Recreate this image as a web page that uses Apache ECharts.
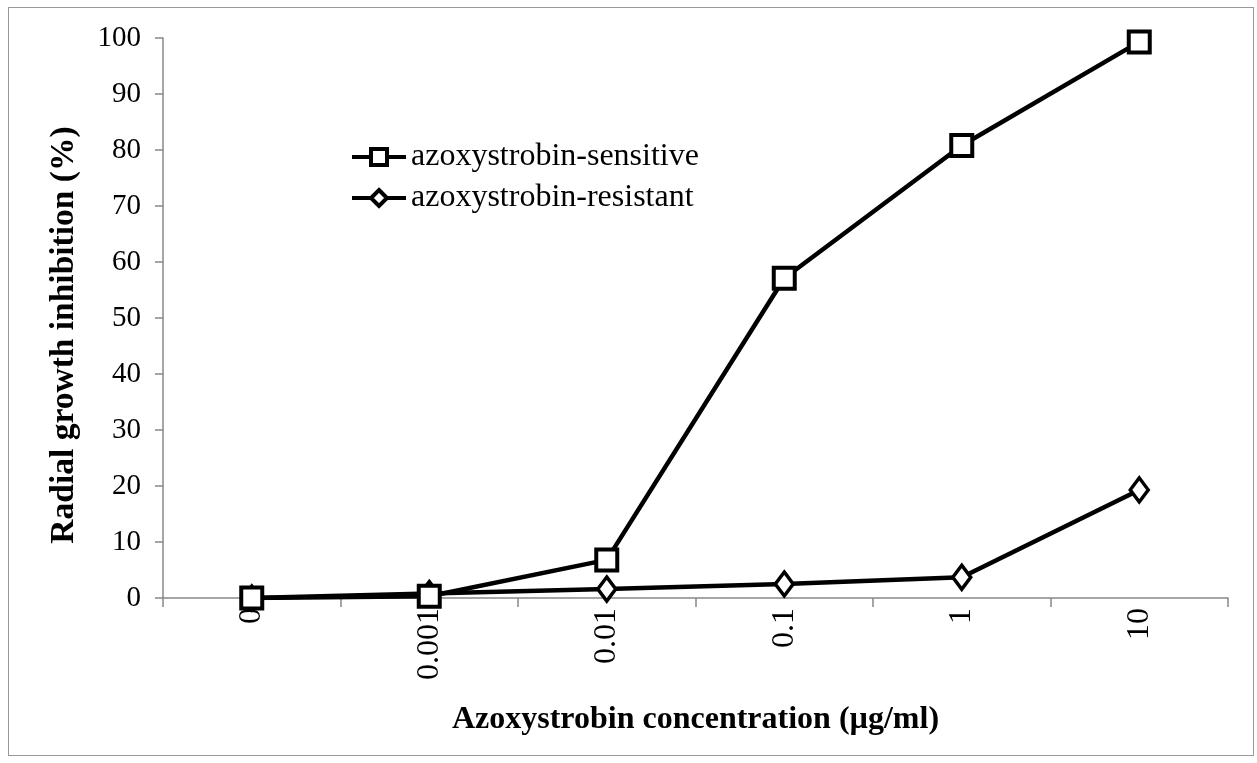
<!DOCTYPE html>
<html>
<head>
<meta charset="utf-8">
<script src="https://cdn.jsdelivr.net/npm/echarts@6/dist/echarts.min.js"></script>
<style>
html, body { margin: 0; padding: 0; background: #fff; }
#chart { width: 1257px; height: 763px; }
#frame { position: absolute; left: 8px; top: 7px; width: 1246px; height: 749px; border: 1px solid #999; box-sizing: border-box; pointer-events: none; }
</style>
</head>
<body>
<div id="chart"></div>
<div id="frame"></div>
<script>
var categories = ['0', '0.001', '0.01', '0.1', '1', '10'];
var sensitive = [0, 0.3, 6.8, 57.1, 80.8, 99.3];
var resistant = [0, 0.8, 1.6, 2.5, 3.7, 19.3];
var yTicks = { min: 0, max: 100, interval: 10 };

var dom = document.getElementById("chart");
var myChart = echarts.init(dom);
var font = 'Liberation Serif';
var option = {
    animation: false,
    grid: { left: 163, right: 29, top: 38, bottom: 165 },
    legend: {
        left: 345,
        top: 136,
        orient: 'vertical',
        itemGap: 9,
        itemWidth: 54,
        itemHeight: 20,
        lineStyle: { width: 4 },
        itemStyle: { borderWidth: 4 },
        textStyle: { fontFamily: font, fontSize: 32, color: '#000' },
        data: ['azoxystrobin-sensitive', 'azoxystrobin-resistant']
    },
    xAxis: {
        type: 'category',
        data: categories,
        name: 'Azoxystrobin concentration (µg/ml)',
        nameLocation: 'middle',
        nameGap: 106,
        nameTextStyle: { fontFamily: font, fontSize: 32, fontWeight: 'bold', color: '#000' },
        axisLine: { lineStyle: { color: '#888', width: 1.5 } },
        axisTick: { show: true, alignWithLabel: false, interval: 0, length: 9, lineStyle: { color: '#888', width: 1.5 } },
        axisLabel: {
            rotate: 90,
            margin: 10,
            interval: 0,
            fontFamily: font,
            fontSize: 32,
            color: '#000'
        }
    },
    yAxis: {
        type: 'value',
        min: yTicks.min,
        max: yTicks.max,
        interval: yTicks.interval,
        name: 'Radial growth inhibition (%)',
        nameLocation: 'middle',
        nameGap: 82,
        nameTextStyle: { fontFamily: font, fontSize: 33.5, fontWeight: 'bold', color: '#000', padding: [0, 34, 0, 0] },
        axisLine: { show: true, lineStyle: { color: '#888', width: 1.5 } },
        axisTick: { show: true, length: 8, lineStyle: { color: '#888', width: 1.5 } },
        splitLine: { show: false },
        axisLabel: { margin: 22, fontFamily: font, fontSize: 29, color: '#000' }
    },
    series: [{
        name: 'azoxystrobin-sensitive',
        type: 'line',
        data: sensitive,
        symbol: 'rect',
        symbolSize: 21,
        lineStyle: { color: '#000', width: 4.5 },
        itemStyle: { color: '#fff', borderColor: '#000', borderWidth: 4 },
        z: 3
    }, {
        name: 'azoxystrobin-resistant',
        type: 'line',
        data: resistant,
        symbol: 'diamond',
        symbolSize: [18, 24],
        lineStyle: { color: '#000', width: 4.5 },
        itemStyle: { color: '#fff', borderColor: '#000', borderWidth: 3.5 },
        z: 2
    }]
};
if (option && typeof option === "object") {
    myChart.setOption(option, true);
}
</script>
</body>
</html>
